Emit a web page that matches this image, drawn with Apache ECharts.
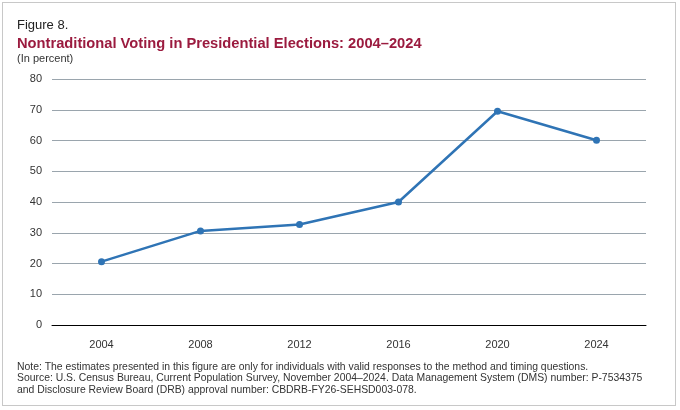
<!DOCTYPE html>
<html><head><meta charset="utf-8">
<script src="https://cdn.jsdelivr.net/npm/echarts@6/dist/echarts.min.js"></script>
<style>
html,body{margin:0;padding:0;background:#fff;}
#frame{position:absolute;left:2px;top:2px;width:674px;height:404px;border:1px solid #c8c8c8;box-sizing:border-box;}
#chart{width:680px;height:410px;}
</style></head>
<body>
<div id="frame"></div>
<div id="chart"></div>
<script>
var years = ['2004', '2008', '2012', '2016', '2020', '2024'];
var values = [20.6, 30.6, 32.7, 40.0, 69.5, 60.1];
var yTicks = [0, 10, 20, 30, 40, 50, 60, 70, 80];
var notes = [
	'Note: The estimates presented in this figure are only for individuals with valid responses to the method and timing questions.',
	'Source: U.S. Census Bureau, Current Population Survey, November 2004\u20132024. Data Management System (DMS) number: P-7534375',
	'and Disclosure Review Board (DRB) approval number: CBDRB-FY26-SEHSD003-078.'
];

var myChart = echarts.init(document.getElementById('chart'));
var font = 'Liberation Sans, Arial, sans-serif';
var option = {
	animation : false,
	textStyle : { fontFamily : font },
	title : [ {
		text : 'Figure 8.',
		left : 12, top : 14,
		textStyle : { fontSize : 13, fontWeight : 'normal', color : '#222' }
	}, {
		text : 'Nontraditional Voting in Presidential Elections: 2004\u20132024',
		left : 12, top : 31,
		textStyle : { fontSize : 14.7, fontWeight : 'bold', color : '#9b1b3f' }
	}, {
		text : '(In percent)',
		left : 12, top : 48,
		textStyle : { fontSize : 11, fontWeight : 'normal', color : '#333' }
	}, {
		text : notes.join('\n'),
		left : 12, top : 356,
		textStyle : { fontSize : 10.4, fontWeight : 'normal', color : '#333', lineHeight : 11.5 }
	} ],
	grid : {
		left : 52,
		right : 34,
		top : 79,
		bottom : 85
	},
	xAxis : {
		type : 'category',
		data : years,
		boundaryGap : true,
		axisLine : { lineStyle : { color : '#000', width : 1 } },
		axisTick : { show : false },
		axisLabel : { color : '#333', fontSize : 11, margin : 14 }
	},
	yAxis : {
		type : 'value',
		min : yTicks[0],
		max : yTicks[yTicks.length - 1],
		interval : 10,
		axisLine : { show : false },
		axisTick : { show : false },
		axisLabel : { color : '#333', fontSize : 11, margin : 10 },
		splitLine : { lineStyle : { color : '#9aa5ad', width : 1 } }
	},
	series : [ {
		type : 'line',
		data : values,
		symbol : 'circle',
		symbolSize : 7,
		lineStyle : { color : '#2f74b5', width : 2.5 },
		itemStyle : { color : '#2f74b5' }
	} ]
};
myChart.setOption(option);
</script>
</body></html>
